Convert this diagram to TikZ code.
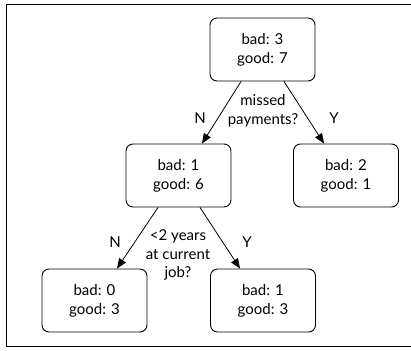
\documentclass[tikz,border=0pt]{standalone}
\usepackage{fontspec}
\setmainfont{Lato}
\usetikzlibrary{arrows.meta,calc}
\begin{document}
\begin{tikzpicture}[x=1pt,y=-1pt,
  box/.style={draw,line width=0.9pt,rounded corners=7pt,minimum width=105pt,minimum height=63pt,align=center,font=\fontsize{15}{19}\selectfont,inner sep=0pt},
  lbl/.style={font=\fontsize{15}{18.5}\selectfont,align=center,inner sep=0pt},
  arr/.style={-{Triangle[length=10pt,width=8pt]},line width=0.8pt}]
\useasboundingbox (0,0) rectangle (411,350);
\begin{scope}
\clip (0,0) rectangle (411,350);
\draw[line width=0.8pt] (6.5,4.5) rectangle (420,346.5);
\end{scope}
\node[box] (root) at (262.5,49.5) {bad: 3\\good: 7};
\node[box] (ml) at (178.5,175.5) {bad: 1\\good: 6};
\node[box] (r) at (346,175.5) {bad: 2\\good: 1};
\node[box] (bl) at (94.5,300.5) {bad: 0\\good: 3};
\node[box] (br) at (263,300.5) {bad: 1\\good: 3};
\draw[arr] ($(root.south)+(-21.5,0)$) -- ($(ml.north)+(23.5,0)$);
\draw[arr] ($(root.south)+(21.5,0)$) -- ($(r.north)+(-22,0)$);
\draw[arr] ($(ml.south)+(-20.5,0)$) -- ($(bl.north)+(22.5,0)$);
\draw[arr] ($(ml.south)+(21.5,0)$) -- ($(br.north)+(-23,0)$);
\node[lbl] (q1) at (263,111) {missed\\payments?};
\node[lbl] (n1) at (200,118) {N};
\node[lbl] (y1) at (334,118) {Y};
\node[lbl] (q2) at (178,255) {<2 years\\at current\\job?};
\node[lbl] (n2) at (115,242) {N};
\node[lbl] (y2) at (247,242) {Y};
\end{tikzpicture}
\end{document}
